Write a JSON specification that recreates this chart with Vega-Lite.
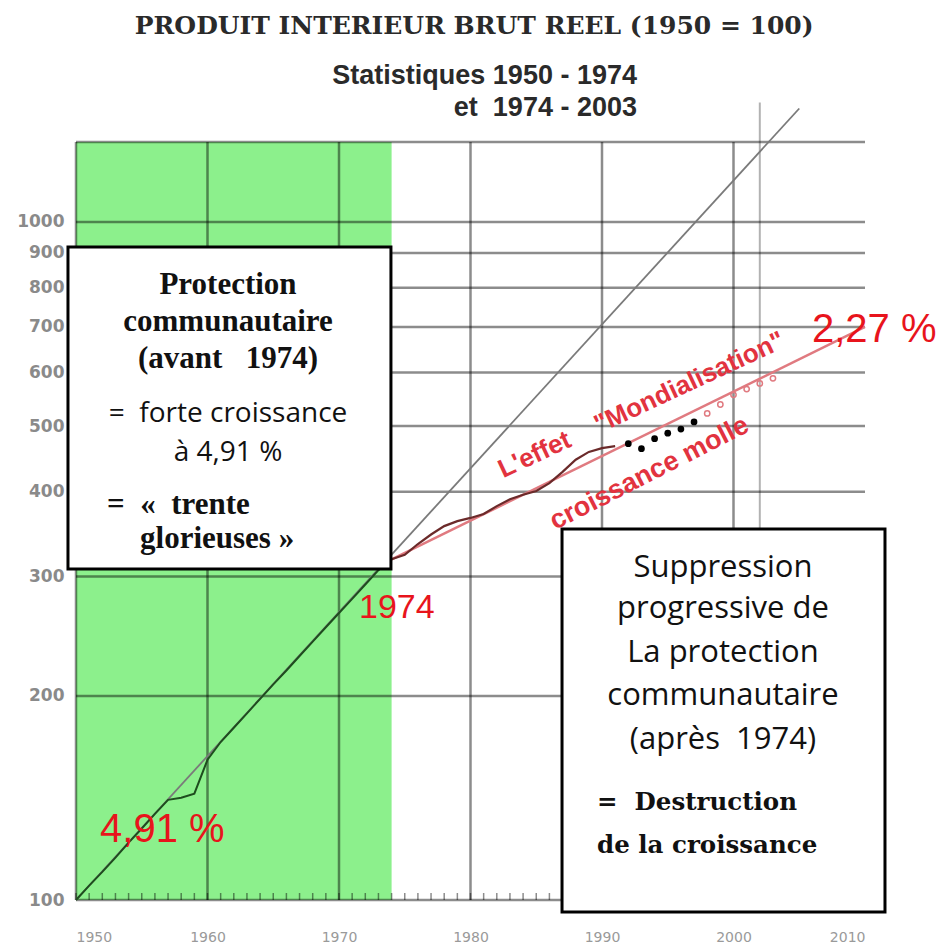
{
  "$schema": "https://vega.github.io/schema/vega-lite/v6.json",
  "width": 789,
  "height": 758,
  "autosize": {"type": "none"},
  "padding": {"left": 76, "top": 142, "right": 73, "bottom": 47},
  "background": "white",
  "config": {"view": {"stroke": null}},
  "datasets": {
    "green": [{"yr": 1950, "yr2": 1974, "v": 100, "v2": 1312}],
    "hgrid": [{"v": 100, "yr": 1950, "yr2": 2010}, {"v": 200, "yr": 1950, "yr2": 2010}, {"v": 300, "yr": 1950, "yr2": 2010}, {"v": 400, "yr": 1950, "yr2": 2010}, {"v": 500, "yr": 1950, "yr2": 2010}, {"v": 600, "yr": 1950, "yr2": 2010}, {"v": 700, "yr": 1950, "yr2": 2010}, {"v": 800, "yr": 1950, "yr2": 2010}, {"v": 900, "yr": 1950, "yr2": 2010}, {"v": 1000, "yr": 1950, "yr2": 2010}, {"v": 1312, "yr": 1950, "yr2": 2010}],
    "vgrid": [{"yr": 1950, "v": 100, "v2": 1312}, {"yr": 1960, "v": 100, "v2": 1312}, {"yr": 1970, "v": 100, "v2": 1312}, {"yr": 1980, "v": 100, "v2": 1312}, {"yr": 1990, "v": 100, "v2": 1312}, {"yr": 2000, "v": 100, "v2": 1312}],
    "vgrid2": [{"yr": 2002, "v": 100, "v2": 1500}],
    "minor": [{"yr": 1950, "v": 100, "v2": 102.4}, {"yr": 1951, "v": 100, "v2": 102.4}, {"yr": 1952, "v": 100, "v2": 102.4}, {"yr": 1953, "v": 100, "v2": 102.4}, {"yr": 1954, "v": 100, "v2": 102.4}, {"yr": 1955, "v": 100, "v2": 102.4}, {"yr": 1956, "v": 100, "v2": 102.4}, {"yr": 1957, "v": 100, "v2": 102.4}, {"yr": 1958, "v": 100, "v2": 102.4}, {"yr": 1959, "v": 100, "v2": 102.4}, {"yr": 1960, "v": 100, "v2": 102.4}, {"yr": 1961, "v": 100, "v2": 102.4}, {"yr": 1962, "v": 100, "v2": 102.4}, {"yr": 1963, "v": 100, "v2": 102.4}, {"yr": 1964, "v": 100, "v2": 102.4}, {"yr": 1965, "v": 100, "v2": 102.4}, {"yr": 1966, "v": 100, "v2": 102.4}, {"yr": 1967, "v": 100, "v2": 102.4}, {"yr": 1968, "v": 100, "v2": 102.4}, {"yr": 1969, "v": 100, "v2": 102.4}, {"yr": 1970, "v": 100, "v2": 102.4}, {"yr": 1971, "v": 100, "v2": 102.4}, {"yr": 1972, "v": 100, "v2": 102.4}, {"yr": 1973, "v": 100, "v2": 102.4}, {"yr": 1974, "v": 100, "v2": 102.4}, {"yr": 1975, "v": 100, "v2": 102.4}, {"yr": 1976, "v": 100, "v2": 102.4}, {"yr": 1977, "v": 100, "v2": 102.4}, {"yr": 1978, "v": 100, "v2": 102.4}, {"yr": 1979, "v": 100, "v2": 102.4}, {"yr": 1980, "v": 100, "v2": 102.4}, {"yr": 1981, "v": 100, "v2": 102.4}, {"yr": 1982, "v": 100, "v2": 102.4}, {"yr": 1983, "v": 100, "v2": 102.4}, {"yr": 1984, "v": 100, "v2": 102.4}, {"yr": 1985, "v": 100, "v2": 102.4}, {"yr": 1986, "v": 100, "v2": 102.4}, {"yr": 1987, "v": 100, "v2": 102.4}, {"yr": 1988, "v": 100, "v2": 102.4}, {"yr": 1989, "v": 100, "v2": 102.4}, {"yr": 1990, "v": 100, "v2": 102.4}, {"yr": 1991, "v": 100, "v2": 102.4}, {"yr": 1992, "v": 100, "v2": 102.4}, {"yr": 1993, "v": 100, "v2": 102.4}, {"yr": 1994, "v": 100, "v2": 102.4}, {"yr": 1995, "v": 100, "v2": 102.4}, {"yr": 1996, "v": 100, "v2": 102.4}, {"yr": 1997, "v": 100, "v2": 102.4}, {"yr": 1998, "v": 100, "v2": 102.4}, {"yr": 1999, "v": 100, "v2": 102.4}, {"yr": 2000, "v": 100, "v2": 102.4}, {"yr": 2001, "v": 100, "v2": 102.4}, {"yr": 2002, "v": 100, "v2": 102.4}, {"yr": 2003, "v": 100, "v2": 102.4}, {"yr": 2004, "v": 100, "v2": 102.4}, {"yr": 2005, "v": 100, "v2": 102.4}, {"yr": 2006, "v": 100, "v2": 102.4}, {"yr": 2007, "v": 100, "v2": 102.4}, {"yr": 2008, "v": 100, "v2": 102.4}, {"yr": 2009, "v": 100, "v2": 102.4}, {"yr": 2010, "v": 100, "v2": 102.4}],
    "trend": [{"yr": 1950, "v": 100}, {"yr": 2005, "v": 1470}],
    "pink": [{"yr": 1974, "v": 318}, {"yr": 2010, "v": 700}],
    "act1": [{"yr": 1950, "v": 100}, {"yr": 1951, "v": 105}, {"yr": 1952, "v": 110}, {"yr": 1953, "v": 115.5}, {"yr": 1954, "v": 121.5}, {"yr": 1955, "v": 127.5}, {"yr": 1956, "v": 134}, {"yr": 1957, "v": 140.5}, {"yr": 1958, "v": 141.5}, {"yr": 1959, "v": 143.5}, {"yr": 1960, "v": 161}, {"yr": 1961, "v": 171}, {"yr": 1962, "v": 179.5}, {"yr": 1963, "v": 188.5}, {"yr": 1964, "v": 198}, {"yr": 1965, "v": 208}, {"yr": 1966, "v": 218}, {"yr": 1967, "v": 229}, {"yr": 1968, "v": 240.5}, {"yr": 1969, "v": 252.5}, {"yr": 1970, "v": 265}, {"yr": 1971, "v": 278}, {"yr": 1972, "v": 292}, {"yr": 1973, "v": 306.5}, {"yr": 1974, "v": 318}],
    "act2": [{"yr": 1974, "v": 318}, {"yr": 1975, "v": 323}, {"yr": 1976, "v": 335}, {"yr": 1977, "v": 346}, {"yr": 1978, "v": 356}, {"yr": 1979, "v": 362}, {"yr": 1980, "v": 366}, {"yr": 1981, "v": 371}, {"yr": 1982, "v": 381}, {"yr": 1983, "v": 390}, {"yr": 1984, "v": 396}, {"yr": 1985, "v": 401}, {"yr": 1986, "v": 412}, {"yr": 1987, "v": 428}, {"yr": 1988, "v": 446}, {"yr": 1989, "v": 458}, {"yr": 1990, "v": 464}, {"yr": 1991, "v": 467}],
    "dots": [{"yr": 1992, "v": 471}, {"yr": 1993, "v": 463}, {"yr": 1994, "v": 479}, {"yr": 1995, "v": 488}, {"yr": 1996, "v": 495}, {"yr": 1997, "v": 507}],
    "circ": [{"yr": 1998, "v": 522}, {"yr": 1999, "v": 538}, {"yr": 2000, "v": 556}, {"yr": 2001, "v": 567}, {"yr": 2002, "v": 578}, {"yr": 2003, "v": 588}],
    "boxes": [{"yr": 1949.39, "yr2": 1973.95, "v": 918.6, "v2": 307.7}, {"yr": 1986.96, "yr2": 2011.52, "v": 352.6, "v2": 96.0}],
    "b1serif": [{"t": "Protection", "yr": 1961.56, "v": 783}, {"t": "communautaire", "yr": 1961.56, "v": 691}, {"t": "(avant\u00a0\u00a0 1974)", "yr": 1961.56, "v": 609}],
    "b1sans": [{"t": "=\u00a0 forte croissance", "yr": 1961.56, "v": 507}, {"t": "à 4,91 %", "yr": 1961.56, "v": 444}],
    "b1serif2": [{"t": "=\u00a0 «\u00a0 trente", "yr": 1952.36, "v": 371}, {"t": "glorieuses »", "yr": 1954.87, "v": 331}],
    "b2sans": [{"t": "Suppression", "yr": 1999.2, "v": 299.5}, {"t": "progressive de", "yr": 1999.2, "v": 260.6}, {"t": "La protection", "yr": 1999.2, "v": 224.4}, {"t": "communautaire", "yr": 1999.2, "v": 194}, {"t": "(après\u00a0 1974)", "yr": 1999.2, "v": 167}],
    "b2serif": [{"t": "=\u00a0 Destruction", "yr": 1989.62, "v": 135.8}, {"t": "de la croissance", "yr": 1989.62, "v": 117.3}],
    "redbig": [{"t": "2,27 %", "yr": 2005.97, "v": 665}, {"t": "4,91 %", "yr": 1951.83, "v": 121.8}],
    "red1974": [{"t": "1974", "yr": 1974.4, "v": 261}],
    "mondial": [{"t": "L'effet\u00a0\u00a0\u00a0 \"Mondialisation\"", "yr": 1993.0, "v": 537}],
    "molle": [{"t": "croissance molle", "yr": 1993.6, "v": 426}],
    "title": [{"t": "PRODUIT INTERIEUR BRUT REEL (1950 = 100)", "yr": 1980.28, "v": 1894}],
    "sub": [{"t": "Statistiques 1950 - 1974", "yr": 1992.66, "v": 1600}, {"t": "et\u00a0 1974 - 2003", "yr": 1992.66, "v": 1433}]
  },
  "encoding": {
    "x": {
      "field": "yr", "type": "quantitative",
      "scale": {"domain": [1950, 2010], "nice": false, "zero": false},
      "axis": {"title": null, "values": [1950, 1960, 1970, 1980, 1990, 2000, 2010], "format": "d", "grid": false, "domain": false, "ticks": false, "labelPadding": 30, "labelFont": "DejaVu Sans", "labelFontSize": 14, "labelColor": "#9a9a9a", "labelBaseline": "top"}
    },
    "y": {
      "field": "v", "type": "quantitative",
      "scale": {"type": "log", "domain": [100, 1312], "nice": false},
      "axis": {"title": null, "values": [100, 200, 300, 400, 500, 600, 700, 800, 900, 1000], "format": "d", "grid": false, "domain": false, "ticks": false, "labelPadding": 12, "labelFont": "DejaVu Sans", "labelFontWeight": "bold", "labelFontSize": 17, "labelColor": "#8a8a8a"}
    }
  },
  "layer": [
    {"data": {"name": "green"}, "mark": {"type": "rect", "color": "#8cf08c"}, "encoding": {"x2": {"field": "yr2"}, "y2": {"field": "v2"}}},
    {"data": {"name": "hgrid"}, "mark": {"type": "rule", "color": "#000000", "opacity": 0.45, "strokeWidth": 2.5}, "encoding": {"x2": {"field": "yr2"}}},
    {"data": {"name": "vgrid"}, "mark": {"type": "rule", "color": "#000000", "opacity": 0.45, "strokeWidth": 2.5}, "encoding": {"y2": {"field": "v2"}}},
    {"data": {"name": "vgrid2"}, "mark": {"type": "rule", "color": "#000000", "opacity": 0.3, "strokeWidth": 2}, "encoding": {"y2": {"field": "v2"}}},
    {"data": {"name": "minor"}, "mark": {"type": "rule", "color": "#000000", "opacity": 0.45, "strokeWidth": 1.5}, "encoding": {"y2": {"field": "v2"}}},
    {"data": {"name": "trend"}, "mark": {"type": "line", "color": "#7a7a7a", "strokeWidth": 1.8}},
    {"data": {"name": "pink"}, "mark": {"type": "line", "color": "#e07a80", "strokeWidth": 2.5}},
    {"data": {"name": "act1"}, "mark": {"type": "line", "color": "#1e4d1e", "strokeWidth": 2}},
    {"data": {"name": "act2"}, "mark": {"type": "line", "color": "#6b2a2a", "strokeWidth": 2.2}},
    {"data": {"name": "dots"}, "mark": {"type": "point", "filled": true, "color": "#000000", "size": 45, "opacity": 1}},
    {"data": {"name": "circ"}, "mark": {"type": "point", "filled": false, "color": "#e07a80", "size": 28, "strokeWidth": 1.5, "opacity": 1}},
    {"data": {"name": "boxes"}, "mark": {"type": "rect", "fill": "#ffffff", "stroke": "#000000", "strokeWidth": 3}, "encoding": {"x2": {"field": "yr2"}, "y2": {"field": "v2"}}},
    {"data": {"name": "b1serif"}, "mark": {"type": "text", "font": "Liberation Serif", "fontWeight": "bold", "fontSize": 31, "color": "#111111", "align": "center", "baseline": "alphabetic"}, "encoding": {"text": {"field": "t"}}},
    {"data": {"name": "b1sans"}, "mark": {"type": "text", "font": "Open Sans", "fontSize": 28, "color": "#111111", "align": "center", "baseline": "alphabetic"}, "encoding": {"text": {"field": "t"}}},
    {"data": {"name": "b1serif2"}, "mark": {"type": "text", "font": "Liberation Serif", "fontWeight": "bold", "fontSize": 31, "color": "#111111", "align": "left", "baseline": "alphabetic"}, "encoding": {"text": {"field": "t"}}},
    {"data": {"name": "b2sans"}, "mark": {"type": "text", "font": "Open Sans", "fontSize": 31, "color": "#111111", "align": "center", "baseline": "alphabetic"}, "encoding": {"text": {"field": "t"}}},
    {"data": {"name": "b2serif"}, "mark": {"type": "text", "font": "DejaVu Serif", "fontWeight": "bold", "fontSize": 24.5, "color": "#111111", "align": "left", "baseline": "alphabetic"}, "encoding": {"text": {"field": "t"}}},
    {"data": {"name": "redbig"}, "mark": {"type": "text", "font": "Liberation Sans", "fontSize": 40, "color": "#e8141c", "align": "left", "baseline": "alphabetic"}, "encoding": {"text": {"field": "t"}}},
    {"data": {"name": "red1974"}, "mark": {"type": "text", "font": "Liberation Sans", "fontSize": 34, "color": "#e8141c", "align": "center", "baseline": "alphabetic"}, "encoding": {"text": {"field": "t"}}},
    {"data": {"name": "mondial"}, "mark": {"type": "text", "font": "Liberation Sans", "fontWeight": "bold", "fontSize": 26, "color": "#e2333f", "align": "center", "baseline": "middle", "angle": -25}, "encoding": {"text": {"field": "t"}}},
    {"data": {"name": "molle"}, "mark": {"type": "text", "font": "Liberation Sans", "fontWeight": "bold", "fontSize": 27, "color": "#e2333f", "align": "center", "baseline": "middle", "angle": -27}, "encoding": {"text": {"field": "t"}}},
    {"data": {"name": "title"}, "mark": {"type": "text", "font": "DejaVu Serif", "fontWeight": "bold", "fontSize": 25, "color": "#2a2a2a", "align": "center", "baseline": "alphabetic"}, "encoding": {"text": {"field": "t"}}},
    {"data": {"name": "sub"}, "mark": {"type": "text", "font": "Liberation Sans", "fontWeight": "bold", "fontSize": 27, "color": "#2a2a2a", "align": "right", "baseline": "alphabetic"}, "encoding": {"text": {"field": "t"}}}
  ]
}
